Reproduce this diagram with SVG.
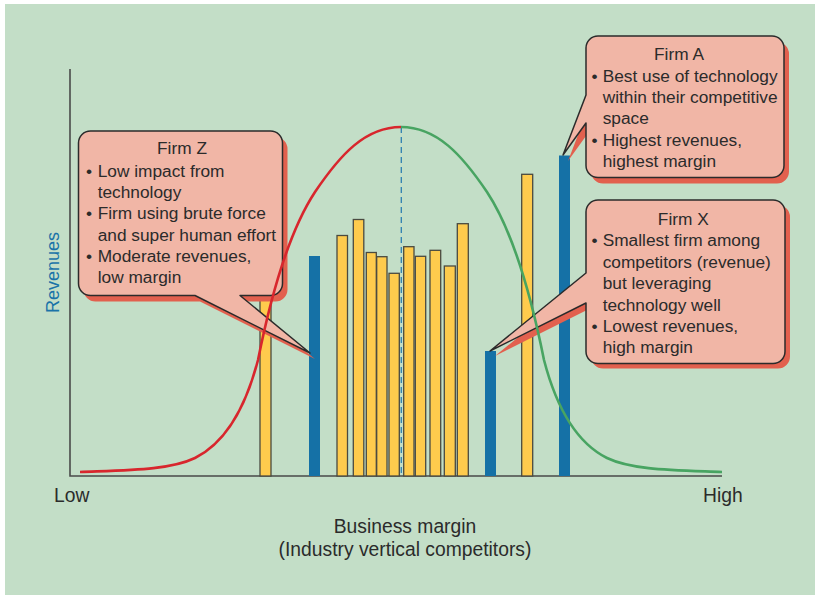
<svg xmlns="http://www.w3.org/2000/svg" width="815" height="595" viewBox="0 0 815 595">
<style>
text{font-family:"Liberation Sans",Arial,sans-serif;font-size:17.3px;fill:#2b2b2b}
.ttl{text-anchor:middle}
.lbl{font-size:19.3px}
.bar{fill:#fecb4d;stroke:#4a4a40;stroke-width:1.3}
.blue{fill:#1571a6}
.shadow{fill:#e2604e}
.call{fill:#f1b6a6;stroke:#2b2b2b;stroke-width:1.5;stroke-linejoin:round}
.axis{stroke:#4a4a4a;stroke-width:1.6;fill:none}
</style>
<rect x="0" y="0" width="815" height="595" fill="#ffffff"/>
<rect x="5" y="4" width="810" height="591" fill="#c3dec7"/>

<g id="axes">
<path class="axis" d="M70,69 V476 H722"/>
<text class="lbl" x="54" y="501.5">Low</text>
<text class="lbl" x="703" y="501.5">High</text>
<text class="lbl" x="405" y="533" text-anchor="middle">Business margin</text>
<text class="lbl" x="405" y="556" text-anchor="middle">(Industry vertical competitors)</text>
<text x="59" y="272.5" text-anchor="middle" transform="rotate(-90 59 272.5)" style="fill:#1a73a8;font-size:18px">Revenues</text>
</g>

<g id="bars">
<rect class="bar" x="260" y="250" width="11" height="226"/>
<rect class="blue" x="309" y="256" width="11" height="220"/>
<rect class="bar" x="337" y="235.5" width="10.5" height="240.5"/>
<rect class="bar" x="353.3" y="219.5" width="10.5" height="256.5"/>
<rect class="bar" x="366.3" y="252.5" width="10" height="223.5"/>
<rect class="bar" x="376.7" y="256.7" width="10.3" height="219.3"/>
<rect class="bar" x="389" y="273.3" width="10.3" height="202.7"/>
<rect class="bar" x="403.7" y="246.7" width="10.3" height="229.3"/>
<rect class="bar" x="415.3" y="256.3" width="10.4" height="219.7"/>
<rect class="bar" x="430" y="250.3" width="10.7" height="225.7"/>
<rect class="bar" x="444.3" y="266" width="11" height="210"/>
<rect class="bar" x="457.3" y="223.7" width="11" height="252.3"/>
<rect class="blue" x="485" y="351" width="11" height="125"/>
<rect class="bar" x="521.7" y="174.3" width="11" height="301.7"/>
<rect class="blue" x="559" y="155.5" width="11" height="320.5"/>
<line x1="401.3" y1="127" x2="401.3" y2="476" stroke="#2f7fb0" stroke-width="1.3" stroke-dasharray="6,4"/>
</g>

<g id="firm-z">
<path class="shadow" transform="translate(5,6)" d="M90.5,131 H270.5 A12,12 0 0 1 282.5,143 V283.5 A12,12 0 0 1 270.5,295.5 H240 L310,353 L195,295.5 H90.5 A12,12 0 0 1 78.5,283.5 V143 A12,12 0 0 1 90.5,131 Z"/>
<path class="call" d="M90.5,131 H270.5 A12,12 0 0 1 282.5,143 V283.5 A12,12 0 0 1 270.5,295.5 H240 L310,353 L195,295.5 H90.5 A12,12 0 0 1 78.5,283.5 V143 A12,12 0 0 1 90.5,131 Z"/>
<text class="ttl" x="182" y="154">Firm Z</text>
<text x="86" y="176.5">•</text><text x="97.7" y="176.5">Low impact from</text>
<text x="97.7" y="197.5">technology</text>
<text x="86" y="219">•</text><text x="97.7" y="219">Firm using brute force</text>
<text x="97.7" y="240.5">and super human effort</text>
<text x="86" y="262">•</text><text x="97.7" y="262">Moderate revenues,</text>
<text x="97.7" y="283.3">low margin</text>
</g>

<g id="firm-a">
<path class="shadow" transform="translate(5,6)" d="M598,36 H772 A12,12 0 0 1 784,48 V165.5 A12,12 0 0 1 772,177.5 H598 A12,12 0 0 1 586,165.5 V123 L563,155 L586,95 V48 A12,12 0 0 1 598,36 Z"/>
<path class="call" d="M598,36 H772 A12,12 0 0 1 784,48 V165.5 A12,12 0 0 1 772,177.5 H598 A12,12 0 0 1 586,165.5 V123 L563,155 L586,95 V48 A12,12 0 0 1 598,36 Z"/>
<text class="ttl" x="679" y="60">Firm A</text>
<text x="591.5" y="81.5">•</text><text x="602.7" y="81.5">Best use of technology</text>
<text x="602.7" y="102.8">within their competitive</text>
<text x="602.7" y="124.2">space</text>
<text x="591.5" y="145.6">•</text><text x="602.7" y="145.6">Highest revenues,</text>
<text x="602.7" y="167">highest margin</text>
</g>

<g id="firm-x">
<path class="shadow" transform="translate(5,5)" d="M598,200 H773 A12,12 0 0 1 785,212 V351.5 A12,12 0 0 1 773,363.5 H598 A12,12 0 0 1 586,351.5 V303 L490,351 L586,273 V212 A12,12 0 0 1 598,200 Z"/>
<path class="call" d="M598,200 H773 A12,12 0 0 1 785,212 V351.5 A12,12 0 0 1 773,363.5 H598 A12,12 0 0 1 586,351.5 V303 L490,351 L586,273 V212 A12,12 0 0 1 598,200 Z"/>
<text class="ttl" x="683.3" y="225">Firm X</text>
<text x="591.5" y="246.4">•</text><text x="602.7" y="246.4">Smallest firm among</text>
<text x="602.7" y="267.8">competitors (revenue)</text>
<text x="602.7" y="289.2">but leveraging</text>
<text x="602.7" y="310.6">technology well</text>
<text x="591.5" y="332">•</text><text x="602.7" y="332">Lowest revenues,</text>
<text x="602.7" y="353.4">high margin</text>
</g>

<g id="connectors">
<path d="M80,472 C130,470 170,470 195,458 C225,443 245,410 258,360 C272,290 290,230 315,192 C340,155 365,127 401,127" fill="none" stroke="#d8262d" stroke-width="2.6"/>
<path d="M401,127 C437,127 462,155 487,192 C512,230 530,290 544,360 C557,410 577,443 607,458 C632,470 672,470 722,472" fill="none" stroke="#48a462" stroke-width="2.6"/>
</g>
</svg>
